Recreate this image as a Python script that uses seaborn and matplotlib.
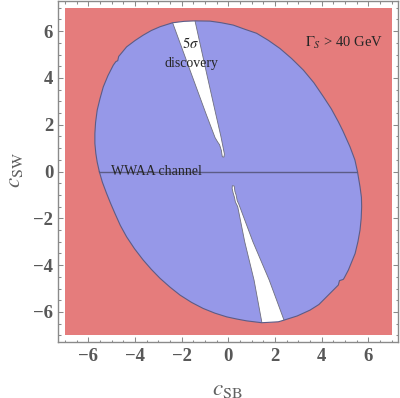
import matplotlib
matplotlib.use("Agg")
import matplotlib.pyplot as plt
import seaborn as sns
from matplotlib.ticker import MultipleLocator

# -------------------
# Data
# -------------------
plot_range = [-7, 7]

# boundary of the 5 sigma discovery region (clockwise from the left crossing)
ellipse_x = [-5.53, -5.62, -5.68, -5.72, -5.72, -5.69, -5.62, -5.50, -5.36, -5.16,
             -4.93, -4.82, -4.74, -4.70, -4.36, -4.00, -3.65, -3.30, -2.93, -2.39,
             -1.90, -1.43, -0.79, -0.30, 0.21, 0.71, 1.21, 1.71, 2.21, 2.71,
             3.21, 3.66, 4.07, 4.41, 4.71, 4.90, 5.21, 5.42, 5.53, 5.64,
             5.70, 5.71, 5.69, 5.64, 5.55, 5.43, 5.14, 4.96, 4.92, 4.76,
             4.71, 4.21, 3.88, 3.50, 2.95, 2.38, 2.14, 1.43, 0.78, 0.35,
             -0.07, -0.58, -1.08, -1.58, -2.07, -2.50, -2.93, -3.30, -3.65, -4.02,
             -4.36, -4.63, -4.86, -5.05, -5.22, -5.40]
ellipse_y = [0.00, 0.40, 0.78, 1.20, 1.63, 2.10, 2.63, 3.12, 3.62, 4.10,
             4.55, 4.70, 4.74, 4.92, 5.33, 5.60, 5.83, 6.03, 6.19, 6.36,
             6.42, 6.44, 6.43, 6.36, 6.26, 6.08, 5.91, 5.61, 5.26, 4.83,
             4.34, 3.80, 3.20, 2.68, 2.13, 1.75, 1.06, 0.50, 0.00, -0.65,
             -1.10, -1.50, -2.00, -2.50, -3.00, -3.50, -4.21, -4.55, -4.61, -4.66,
             -4.85, -5.35, -5.68, -5.92, -6.17, -6.35, -6.42, -6.46, -6.38, -6.30,
             -6.21, -6.05, -5.85, -5.59, -5.28, -4.94, -4.56, -4.18, -3.78, -3.30,
             -2.79, -2.30, -1.79, -1.35, -0.93, -0.45]

# gaps without discovery inside the region
upper_wedge_x = [-2.55, -1.51, -0.90, -0.55, -0.32, -0.25, -0.17, -0.19, -0.26,
                 -0.30, -0.38, -0.45, -0.57, -0.97, -1.54]
upper_wedge_y = [6.80, 6.80, 4.05, 2.50, 1.50, 1.15, 0.75, 0.62, 0.63,
                 0.90, 1.15, 1.25, 1.45, 2.50, 4.05]
lower_wedge_x = [0.17, 0.25, 0.28, 0.33, 0.38, 0.45, 1.05, 1.75, 2.55,
                 1.50, 1.10, 0.70, 0.40, 0.30, 0.26, 0.20, 0.16]
lower_wedge_y = [-0.60, -0.62, -0.85, -1.00, -1.25, -1.40, -3.00, -4.64, -6.80,
                 -6.80, -4.64, -3.00, -1.50, -1.30, -1.10, -0.90, -0.72]

# WWAA channel line
wwaa_x = [-5.53, 5.53]
wwaa_y = [0.0, 0.0]

# -------------------
# Style
# -------------------
sns.set_style("ticks")
plt.rcParams['font.family'] = ['Liberation Serif', 'DejaVu Serif']
plt.rcParams['mathtext.fontset'] = 'stix'

RED = '#e57c7c'
BLUE = '#9698e8'
EDGE = '#5c5c86'
FRAME = '#8a8a8a'
TICKTXT = '#585858'

fig = plt.figure(figsize=(4.0, 3.98), dpi=100)
ax = fig.add_axes([0.145, 0.1415, 0.849, 0.856])

# Gamma_S > 40 GeV region (whole plot range)
rx = [plot_range[0], plot_range[1], plot_range[1], plot_range[0]]
ry = [plot_range[0], plot_range[0], plot_range[1], plot_range[1]]
ax.fill(rx, ry, color=RED, lw=0, zorder=1)

# discovery region
region = ax.fill(ellipse_x, ellipse_y, color=BLUE, lw=0, zorder=2)[0]

for wx, wy in [(upper_wedge_x, upper_wedge_y), (lower_wedge_x, lower_wedge_y)]:
    w = ax.fill(wx, wy, facecolor='white', edgecolor='#6f6f7f', lw=0.6, zorder=3)[0]
    w.set_clip_path(region)

ax.plot(ellipse_x + ellipse_x[:1], ellipse_y + ellipse_y[:1], color=EDGE, lw=0.8, zorder=4)
sns.lineplot(x=wwaa_x, y=wwaa_y, ax=ax, color=EDGE, lw=1.0, zorder=4)

# annotations
ax.text(-1.62, 5.47, r'$5\sigma$', fontsize=10.5, ha='center', va='center', zorder=5)
ax.text(-1.58, 4.62, 'discovery', fontsize=10, ha='center', va='center', zorder=5)
ax.text(-5.05, 0.0, 'WWAA channel', fontsize=10, ha='left', va='center', zorder=5)
ax.text(4.95, 5.49, r'$\Gamma_S$ > 40 GeV', fontsize=10.5, ha='center', va='center', zorder=5)

# axes
ax.set_xlim(-7.3, 7.25)
ax.set_ylim(-7.27, 7.29)
ax.xaxis.set_major_locator(MultipleLocator(2))
ax.yaxis.set_major_locator(MultipleLocator(2))
ax.xaxis.set_minor_locator(MultipleLocator(0.5))
ax.yaxis.set_minor_locator(MultipleLocator(0.5))
ax.tick_params(which='both', direction='in', top=True, right=True,
               color=FRAME, width=0.75, labelcolor=TICKTXT, labelsize=13.5)
ax.tick_params(which='major', length=3.3)
ax.tick_params(which='minor', length=1.8)
ax.tick_params(axis='x', pad=4.5)
ax.tick_params(axis='y', pad=3.5)
for lab in ax.get_xticklabels() + ax.get_yticklabels():
    lab.set_fontweight('bold')
for sp in ax.spines.values():
    sp.set_color(FRAME)
    sp.set_linewidth(1.0)

ax.set_xlabel(r'$c_{\mathrm{SB}}$', fontsize=16.5, color='#606060')
ax.set_ylabel(r'$c_{\mathrm{SW}}$', fontsize=16.5, color='#606060')
ax.xaxis.set_label_coords(0.4975, -0.139)
ax.xaxis.label.set_va('center')
ax.yaxis.set_label_coords(-0.127, 0.504)
ax.yaxis.label.set_va('center')

fig.savefig("out.png", dpi=100)
